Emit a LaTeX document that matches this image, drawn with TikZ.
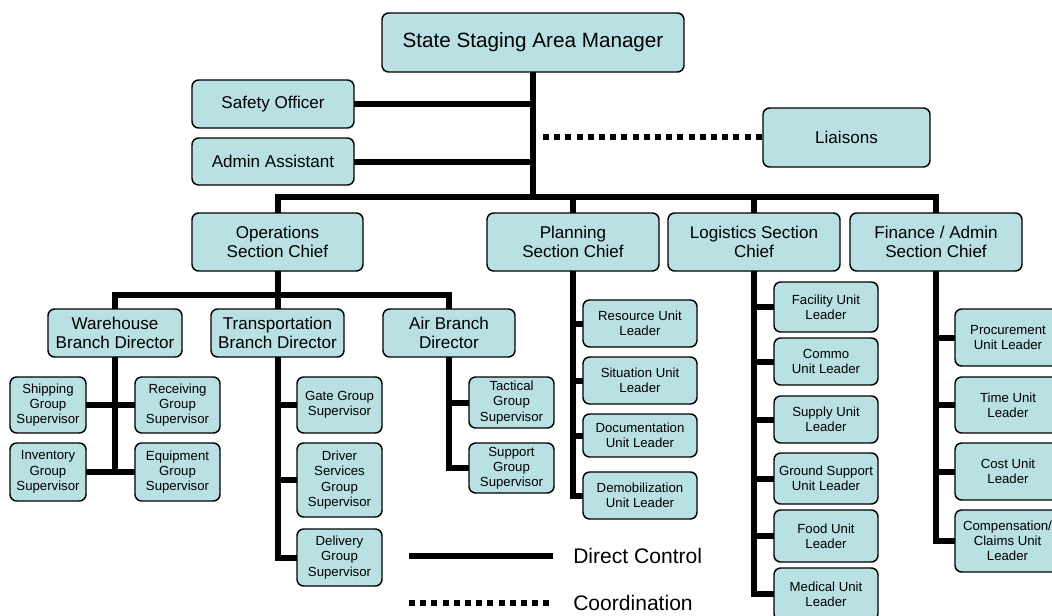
\documentclass[tikz,border=0pt]{standalone}
\usepackage{fontspec}
\setmainfont{Liberation Sans}
\definecolor{boxfill}{HTML}{B9E0E3}
\newcommand\bx[7]{\node[box,#1,minimum width={(#5-#3)*0.75pt},minimum height={(#6-#4)*0.75pt}] (#2) at ({(#3+#5)/2},{(#4+#6)/2}) {#7};}
\tikzset{
  box/.style={draw=black, line width=1.1pt, fill=boxfill, rounded corners=5pt, align=center, inner sep=0pt, outer sep=0pt},
  big/.style={font=\fontsize{15.5}{18}\selectfont},
  mid/.style={font=\fontsize{12.8}{13.8}\selectfont},
  sml/.style={font=\fontsize{9.9}{11.4}\selectfont},
  legtext/.style={font=\fontsize{15.8}{18}\selectfont, anchor=west, inner sep=0pt},
  conn/.style={line width=4.5pt, line join=miter},
  coordline/.style={line width=4.5pt, dash pattern=on 4.5pt off 3.9pt}
}
\begin{document}
\begin{tikzpicture}[x=0.75pt,y=-0.75pt]
\useasboundingbox (0,0) rectangle (1052,615);
% top level
\bx{big}{ssam}{382}{13}{684}{72}{State Staging Area Manager}
\bx{mid}{safety}{192}{80}{354}{128}{Safety Officer}
\bx{mid}{admin}{192}{138}{354}{185}{Admin Assistant}
\bx{mid}{liaisons}{763}{108}{930}{167}{Liaisons}
% sections
\bx{mid}{ops}{192}{213}{363}{271}{Operations\\Section Chief}
\bx{mid}{plan}{487}{213}{659}{271}{Planning\\Section Chief}
\bx{mid}{log}{668}{213}{840}{271}{Logistics Section\\Chief}
\bx{mid}{fin}{850}{213}{1022}{271}{Finance / Admin\\Section Chief}
% branches
\bx{mid}{wh}{48}{309}{182}{357}{Warehouse\\Branch Director}
\bx{mid}{trans}{211}{309}{344}{357}{Transportation\\Branch Director}
\bx{mid}{air}{383}{309}{515}{357}{Air Branch\\Director}
% warehouse groups
\bx{sml}{ship}{10}{377}{86}{433}{Shipping\\Group\\Supervisor}
\bx{sml}{recv}{135}{377}{220}{433}{Receiving\\Group\\Supervisor}
\bx{sml}{inv}{10}{443}{86}{501}{Inventory\\Group\\Supervisor}
\bx{sml}{equip}{135}{443}{220}{501}{Equipment\\Group\\Supervisor}
% transportation groups
\bx{sml}{gate}{297}{377}{382}{433}{Gate Group\\Supervisor}
\bx{sml}{driver}{297}{443}{382}{517}{Driver\\Services\\Group\\Supervisor}
\bx{sml}{deliv}{297}{529}{382}{586}{Delivery\\Group\\Supervisor}
% air groups
\bx{sml}{tact}{469}{377}{554}{428}{Tactical\\Group\\Supervisor}
\bx{sml}{supp}{469}{443}{554}{493}{Support\\Group\\Supervisor}
% planning units
\bx{sml}{res}{583}{300}{697}{347}{Resource Unit\\Leader}
\bx{sml}{sit}{583}{357}{697}{404}{Situation Unit\\Leader}
\bx{sml}{doc}{583}{414}{697}{457}{Documentation\\Unit Leader}
\bx{sml}{demob}{583}{472}{697}{519}{Demobilization\\Unit Leader}
% logistics units
\bx{sml}{fac}{774}{282}{878}{332}{Facility Unit\\Leader}
\bx{sml}{commo}{774}{338}{878}{385}{Commo\\Unit Leader}
\bx{sml}{supply}{774}{396}{878}{443}{Supply Unit\\Leader}
\bx{sml}{ground}{774}{453}{878}{504}{Ground Support\\Unit Leader}
\bx{sml}{food}{774}{510}{878}{562}{Food Unit\\Leader}
\bx{sml}{med}{774}{568}{878}{620}{Medical Unit\\Leader}
% finance units
\bx{sml}{proc}{955}{309}{1061}{366}{Procurement\\Unit Leader}
\bx{sml}{time}{955}{377}{1061}{433}{Time Unit\\Leader}
\bx{sml}{cost}{955}{443}{1061}{500}{Cost Unit\\Leader}
\bx{sml}{comp}{955}{510}{1060}{572}{Compensation/\\Claims Unit\\Leader}
% junction coordinates
\coordinate (mbus) at (533,197);
\coordinate (obus) at (277,295);
\coordinate (dotstart) at (543,137);
% main trunk and bus
\draw[conn] (ssam.south) -- (ssam.south |- mbus);
\draw[conn] (safety.east) -- (safety.east -| ssam.south);
\draw[conn] (admin.east) -- (admin.east -| ssam.south);
\draw[coordline] (dotstart) -- (dotstart -| liaisons.west);
\draw[conn] (ops.north) -- (ops.north |- mbus) -- (fin.north |- mbus) -- (fin.north);
\draw[conn] (plan.north) -- (plan.north |- mbus);
\draw[conn] (log.north) -- (log.north |- mbus);
% operations
\draw[conn] (ops.south) -- (trans.north);
\draw[conn] (wh.north) -- (wh.north |- obus) -- (air.north |- obus) -- (air.north);
% warehouse
\draw[conn] (wh.south) -- (wh.south |- inv.east);
\draw[conn] (ship.east) -- (recv.west);
\draw[conn] (inv.east) -- (equip.west);
% transportation
\draw[conn] (gate.west) -- (gate.west -| trans.south);
\draw[conn] (driver.west) -- (driver.west -| trans.south);
\draw[conn] (trans.south) |- (deliv.west);
% air
\draw[conn] (tact.west) -- (tact.west -| air.south);
\draw[conn] (air.south) |- (supp.west);
% planning
\draw[conn] (res.west) -- (res.west -| plan.south);
\draw[conn] (sit.west) -- (sit.west -| plan.south);
\draw[conn] (doc.west) -- (doc.west -| plan.south);
\draw[conn] (plan.south) |- (demob.west);
% logistics
\draw[conn] (fac.west) -- (fac.west -| log.south);
\draw[conn] (commo.west) -- (commo.west -| log.south);
\draw[conn] (supply.west) -- (supply.west -| log.south);
\draw[conn] (ground.west) -- (ground.west -| log.south);
\draw[conn] (food.west) -- (food.west -| log.south);
\draw[conn] (log.south) |- (med.west);
% finance
\draw[conn] (proc.west) -- (proc.west -| fin.south);
\draw[conn] (time.west) -- (time.west -| fin.south);
\draw[conn] (cost.west) -- (cost.west -| fin.south);
\draw[conn] (fin.south) |- (comp.west);
% legend
\coordinate (la) at (409,556);
\coordinate (lb) at (553,556);
\coordinate (lc) at (409,603);
\coordinate (ld) at (553,603);
\draw[conn] (la) -- (lb);
\draw[coordline] (lc) -- (ld);
\node[legtext] (dctext) at (573,556) {Direct Control};
\node[legtext] (cotext) at (573,603) {Coordination};
\end{tikzpicture}
\end{document}
